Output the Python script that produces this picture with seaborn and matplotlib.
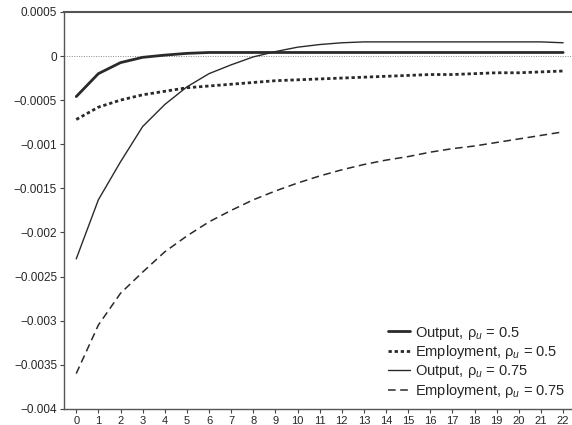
import numpy as np
import pandas as pd
import matplotlib
matplotlib.use("Agg")
import matplotlib.pyplot as plt
import seaborn as sns

periods = list(range(23))
output_05 = [-0.00046, -0.00020, -0.000075, -0.000015, 0.00001, 0.00003, 0.00004, 0.00004,
             0.00004, 0.00004, 0.00004, 0.00004, 0.00004, 0.00004, 0.00004, 0.00004,
             0.00004, 0.00004, 0.00004, 0.00004, 0.00004, 0.00004, 0.00004]
employment_05 = [-0.00072, -0.00058, -0.00050, -0.00044, -0.00040, -0.00036, -0.00034, -0.00032,
                 -0.00030, -0.00028, -0.00027, -0.00026, -0.00025, -0.00024, -0.00023, -0.00022,
                 -0.00021, -0.00021, -0.00020, -0.00019, -0.00019, -0.00018, -0.00017]
output_075 = [-0.00230, -0.00163, -0.00120, -0.00080, -0.00055, -0.00035, -0.00020, -0.00010,
              -0.00001, 0.00005, 0.00010, 0.00013, 0.00015, 0.00016, 0.00016, 0.00016,
              0.00016, 0.00016, 0.00016, 0.00016, 0.00016, 0.00016, 0.00015]
employment_075 = [-0.00360, -0.00305, -0.00269, -0.00245, -0.00222, -0.00204, -0.00188, -0.00175,
                  -0.00163, -0.00153, -0.00144, -0.00136, -0.00129, -0.00123, -0.00118, -0.00114,
                  -0.00109, -0.00105, -0.00102, -0.00098, -0.00094, -0.00090, -0.00086]
series_labels = ["Output, \u03c1$_u$ = 0.5", "Employment, \u03c1$_u$ = 0.5",
                 "Output, \u03c1$_u$ = 0.75", "Employment, \u03c1$_u$ = 0.75"]
y_ticks = [0.0005, 0, -0.0005, -0.001, -0.0015, -0.002, -0.0025, -0.003, -0.0035, -0.004]
y_tick_labels = ["0.0005", "0", "\u22120.0005", "\u22120.001", "\u22120.0015", "\u22120.002",
                 "\u22120.0025", "\u22120.003", "\u22120.0035", "\u22120.004"]

sns.set_style("ticks")
plt.rcParams["font.family"] = ["Liberation Sans", "DejaVu Sans"]
plt.rcParams["mathtext.fontset"] = "custom"
plt.rcParams["mathtext.rm"] = "Liberation Sans"
plt.rcParams["mathtext.it"] = "Liberation Sans:italic"

fig = plt.figure(figsize=(5.72, 4.25), dpi=100)
ax = fig.add_axes([0.112, 0.038, 0.888, 0.934])

color = "#2a2a2a"
styles = [
    dict(lw=2.0, ls="-"),
    dict(lw=2.0, ls=(0, (1.2, 1.0))),
    dict(lw=1.0, ls="-"),
    dict(lw=1.1, ls=(0, (5, 3))),
]
all_series = [output_05, employment_05, output_075, employment_075]
for vals, lab, st in zip(all_series, series_labels, styles):
    df = pd.DataFrame({"period": periods, "value": vals})
    sns.lineplot(data=df, x="period", y="value", ax=ax, color=color, label=lab,
                 linewidth=st["lw"], linestyle=st["ls"])

ax.axhline(0, xmin=0.0, xmax=1.0, color="#888888", lw=0.7, ls=(0, (1, 1.5)), zorder=0)

ax.set_xlim(-0.55, 22.4)
ax.set_ylim(-0.004, 0.0005)
ax.set_xticks(periods)
ax.set_xticklabels([str(p) for p in periods], fontsize=8)
ax.set_yticks(y_ticks)
ax.set_yticklabels(y_tick_labels, fontsize=8.5)
ax.set_xlabel("")
ax.set_ylabel("")
ax.tick_params(axis="both", direction="out", length=3, width=0.8, color="#444444", pad=2)

for s in ["left", "bottom", "top"]:
    ax.spines[s].set_visible(True)
    ax.spines[s].set_color("#555555")
    ax.spines[s].set_linewidth(1.0)
ax.spines["top"].set_linewidth(1.5)
ax.spines["right"].set_visible(False)

leg = ax.legend(loc="lower right", frameon=False, fontsize=10.5, handlelength=1.5,
                handletextpad=0.3, labelspacing=0.12, borderaxespad=0.0,
                bbox_to_anchor=(0.998, 0.008))

fig.savefig("out.png", dpi=100)
